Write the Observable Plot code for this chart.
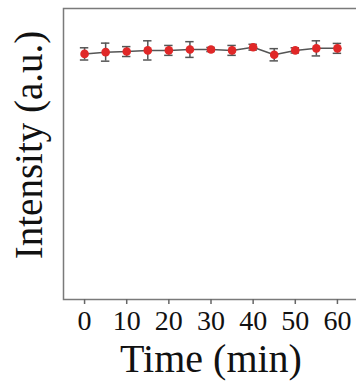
<!DOCTYPE html>
<html><head><meta charset="utf-8">
<script src="https://cdn.jsdelivr.net/npm/d3@7"></script>
<script src="https://cdn.jsdelivr.net/npm/@observablehq/plot@0.6"></script>
<style>body{margin:0;background:#fff}</style>
</head><body><div id="chart"></div>
<script>
const times = [0, 5, 10, 15, 20, 25, 30, 35, 40, 45, 50, 55, 60];
const intensity = [84.4, 85.0, 85.2, 85.6, 85.6, 85.9, 85.9, 85.6, 86.7, 84.1, 85.6, 86.3, 86.3];
const errors = [2.1, 3.1, 1.7, 3.3, 1.7, 2.7, 0.7, 1.7, 1.0, 2.1, 0.9, 2.6, 1.7];
const xTicks = [0, 10, 20, 30, 40, 50, 60];
const xLabel = "Time (min)";
const yLabel = "Intensity (a.u.)";

const data = times.map((t, i) => ({t, v: intensity[i], lo: intensity[i] - errors[i], hi: intensity[i] + errors[i]}));
const caps = data.flatMap(d => [{a: d.t - 1, b: d.t + 1, y: d.lo}, {a: d.t - 1, b: d.t + 1, y: d.hi}]);
const serif = "'Liberation Serif', 'Times New Roman', serif";

const chart = Plot.plot({
  width: 356, height: 385,
  marginLeft: 63, marginTop: 8, marginBottom: 86, marginRight: -2,
  style: {fontFamily: serif, background: "#fff", color: "#111"},
  x: {domain: [-5, 65]},
  y: {domain: [0, 100], axis: null},
  marks: [
    Plot.frame({stroke: "#7a7a7a", strokeWidth: 1.5}),
    Plot.axisX({ticks: xTicks, tickSize: 5, tickPadding: 6, fontSize: 28, label: null, stroke: "#666", strokeWidth: 1.5}),
    Plot.axisX({ticks: [], label: xLabel, labelAnchor: "center", labelArrow: "none", labelOffset: 72, fontSize: 40}),
    Plot.text([yLabel], {text: d => d, frameAnchor: "left", rotate: -90, dx: -34, dy: -9, fontSize: 39, fill: "#111", textAnchor: "middle", lineAnchor: "middle"}),
    Plot.line(data, {x: "t", y: "v", stroke: "#555", strokeWidth: 1.5}),
    Plot.ruleX(data, {x: "t", y1: "lo", y2: "hi", stroke: "#555", strokeWidth: 1.5}),
    Plot.ruleY(caps, {x1: "a", x2: "b", y: "y", stroke: "#555", strokeWidth: 1.5}),
    Plot.dot(data, {x: "t", y: "v", r: 4.3, fill: "#e02828", stroke: "none"})
  ]
});
document.getElementById("chart").append(chart);
</script>
</body></html>
